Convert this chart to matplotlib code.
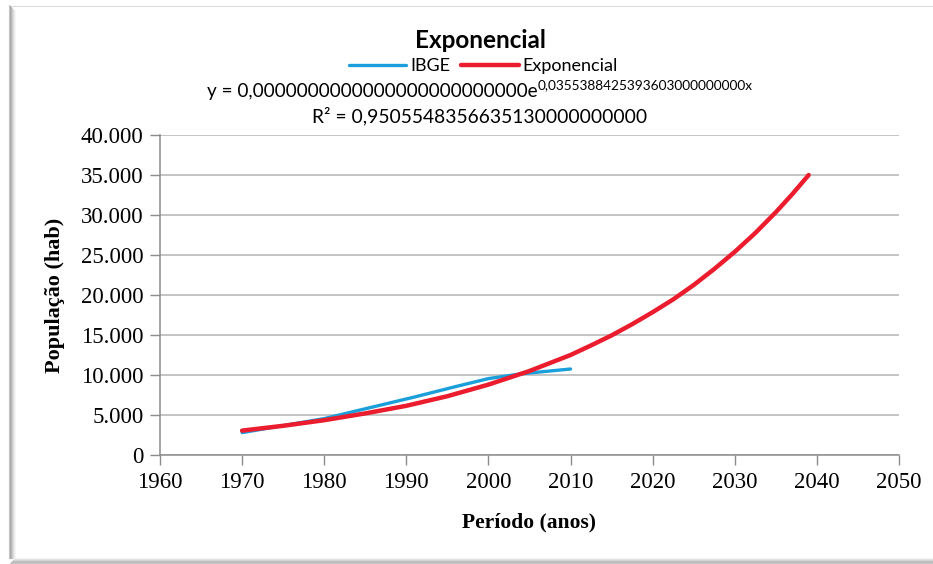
import matplotlib.pyplot as plt
from matplotlib.lines import Line2D
from matplotlib.ticker import FuncFormatter

# IBGE census values
ibge_anos = [1970, 1980, 1991, 1996, 2000, 2004, 2007, 2010]
ibge_pop = [2800, 4550, 7250, 8550, 9550, 10150, 10450, 10750]

# exponential trend line
exp_anos = [1970, 1975, 1980, 1985, 1990, 1995, 2000, 2005, 2010, 2012.5,
            2015, 2017.5, 2020, 2022.5, 2025, 2027.5, 2030, 2032.5, 2035, 2037, 2039]
exp_pop = [3050, 3650, 4350, 5200, 6150, 7350, 8800, 10500, 12500, 13700,
           14950, 16350, 17850, 19450, 21250, 23250, 25400, 27750, 30350, 32600, 35000]

x_ticks = list(range(1960, 2051, 10))
y_ticks = list(range(0, 40001, 5000))

W, H = 933, 564
fig = plt.figure(figsize=(W / 100, H / 100), dpi=100)
ax = fig.add_axes([160 / W, 1 - 455 / H, (899 - 160) / W, (455 - 135) / H])

blue = '#1a9fdb'
red = '#ea1c2d'
gray = '#8c8c8c'

ax.plot(ibge_anos, ibge_pop, color=blue, lw=2.4, solid_capstyle='round',
        solid_joinstyle='round', label='IBGE', zorder=3)
ax.plot(exp_anos, exp_pop, color=red, lw=3.2, solid_capstyle='round',
        solid_joinstyle='round', label='Exponencial', zorder=4)

ax.set_xlim(1960, 2050)
ax.set_ylim(0, 40000)
ax.set_xticks(x_ticks)
ax.set_yticks(y_ticks)
ax.yaxis.set_major_formatter(FuncFormatter(lambda v, p: f"{v:,.0f}".replace(",", ".")))
ax.grid(axis='y', color='#b4b4b4', lw=1.1)
ax.set_axisbelow(True)
for s in ['top', 'right']:
    ax.spines[s].set_visible(False)
for s in ['left', 'bottom']:
    ax.spines[s].set_color(gray)
    ax.spines[s].set_linewidth(1.1)
ax.tick_params(axis='both', direction='out', length=7, width=1, color=gray,
               labelsize=16.5, pad=5)
for lab in ax.get_xticklabels() + ax.get_yticklabels():
    lab.set_fontfamily('Liberation Serif')

ax.set_xlabel('Período (anos)', fontfamily='Liberation Serif', fontweight='bold',
              fontsize=15.5, labelpad=14)
ax.set_ylabel('População (hab)', fontfamily='Liberation Serif', fontweight='bold',
              fontsize=16, labelpad=11)

# title, legend, equation
fig.text(480 / W, 1 - 41 / H, 'Exponencial', ha='center', va='center',
         fontfamily='Lato', fontweight='bold', fontsize=17.5)
fig.legend(loc='center', bbox_to_anchor=(483 / W, 1 - 66 / H), ncol=2, frameon=False,
           prop={'family': 'Lato', 'size': 13}, handlelength=3.2, handletextpad=0.2,
           columnspacing=0.6, borderpad=0)
fig.text(538 / W, 1 - 91 / H, 'y = 0,' + '0' * 25 + 'e', ha='right', va='center',
         fontfamily='Lato', fontsize=13.6)
fig.text(538 / W, 1 - 85 / H, '0,0355388425393603' + '0' * 9 + 'x', ha='left', va='center',
         fontfamily='Lato', fontsize=9.8)
fig.text(480 / W, 1 - 116 / H, 'R² = 0,950554835663513' + '0' * 10, ha='center', va='center',
         fontfamily='Lato', fontsize=13.9)

# chart-area frame with shadow
def px_line(x0, y0, x1, y1, c):
    fig.add_artist(Line2D([x0 / W, x1 / W], [1 - y0 / H, 1 - y1 / H],
                          transform=fig.transFigure, color=c, lw=0.8))

px_line(9, 5.5, W, 5.5, '#dcdcdc')
left_shades = ['#c8c8c8', '#a8a8a8', '#b8b8b8', '#cccccc', '#dedede', '#ececec', '#f6f6f6']
for i, c in enumerate(left_shades):
    px_line(8.5 + i, 5 + i, 8.5 + i, 558, c)
bottom_shades = ['#f4f4f4', '#e4e4e4', '#d4d4d4', '#c4c4c4', '#b8b8b8', '#c8c8c8']
for i, c in enumerate(bottom_shades):
    px_line(15 - i, 557.5 + i, W, 557.5 + i, c)

plt.savefig('out.png', dpi=100)
